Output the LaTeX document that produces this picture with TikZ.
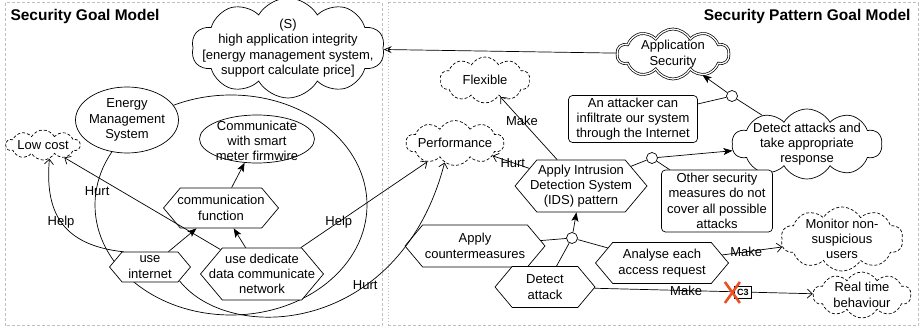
\documentclass[tikz,border=0pt]{standalone}
\usepackage{fontspec}
\setmainfont{Liberation Sans}
\usetikzlibrary{shapes.symbols,shapes.geometric,arrows.meta}
\definecolor{xred}{RGB}{235,80,35}
\begin{document}
\begin{tikzpicture}[x=1pt,y=-1pt,
  every node/.style={font=\fontsize{13}{15.3}\selectfont},
  lbl/.style={align=center, inner sep=0pt},
  base/.style={draw, fill=white, inner sep=0pt, line width=0.7pt},
  sgoal/.style={base, cloud, cloud puffs=10, cloud puff arc=120, cloud ignores aspect},
  nfr/.style={sgoal, dash pattern=on 3pt off 2pt},
  goal/.style={base, ellipse},
  task/.style={base, signal, signal to=east and west, signal pointer angle=100},
  res/.style={base, rectangle, rounded corners=4pt},
  junc/.style={base, circle, minimum size=11pt},
  conn/.style={line width=0.7pt},
  arrD/.style={conn, -{Stealth[length=9pt,width=7pt,inset=2pt]}},
  arrC/.style={conn, -{Straight Barb[length=5pt,width=9pt]}},
  arrS/.style={conn, -{Stealth[open,length=8pt,width=7pt,inset=3pt]}},
  elbl/.style={inner sep=0pt},
  panel/.style={draw=black!25, line width=1pt, dash pattern=on 3pt off 2pt},
  c3box/.style={draw, fill=white, line width=0.6pt, inner sep=1pt, minimum width=17pt, minimum height=12pt, font=\fontsize{9}{10}\selectfont\bfseries},
  xmark/.style={draw=xred, line width=2.6pt}
]
\useasboundingbox (0,0) rectangle (922,331);
% panels
\draw[panel] (5,3) rectangle (382,326);
\draw[panel] (388,3) -- (918,3) -- (918,326) -- (388,326);
\draw[draw=black!25, line width=1pt, dotted] (388,3) -- (388,326);
\node[anchor=west, font=\fontsize{15.5}{18}\selectfont\bfseries] (t1) at (7,16) {Security Goal Model};
\node[anchor=east, font=\fontsize{15.5}{18}\selectfont\bfseries] (t2) at (914,16) {Security Pattern Goal Model};

% actor boundary
\draw[conn] (231,205) ellipse [x radius=136pt, y radius=110pt];

% left panel nodes
\node[sgoal, minimum width=193pt, minimum height=100pt,
  label={[lbl]center:{(S)\\high application integrity\\{[}energy management system,\\support calculate price{]}}}] (s) at (288,48) {};
\node[goal, minimum width=103pt, minimum height=66pt,
  label={[lbl]center:{Energy\\Management\\System}}] (ems) at (127,120) {};
\node[nfr, minimum width=74pt, minimum height=30pt,
  label={[lbl]center:{Low cost}}] (lowcost) at (43,145) {};
\node[goal, minimum width=115pt, minimum height=48pt,
  label={[lbl,yshift=-2pt]center:{Communicate\\with smart\\meter firmwire}}] (comm) at (257,139) {};
\node[task, minimum width=115pt, minimum height=40pt,
  label={[lbl]center:{communication\\function}}] (cf) at (221,208) {};
\node[task, minimum width=81pt, minimum height=30pt,
  label={[lbl]center:{use\\internet}}] (ui) at (150,267) {};
\node[task, minimum width=123pt, minimum height=52pt,
  label={[lbl]center:{use dedicate\\data communicate\\network}}] (ud) at (262,274) {};

% right panel nodes
\node[sgoal, double, double distance=1.3pt, minimum width=112pt, minimum height=50pt,
  label={[lbl]center:{Application\\Security}}] (appsec) at (673,54) {};
\node[nfr, minimum width=90pt, minimum height=46pt,
  label={[lbl]center:{Flexible}}] (flexible) at (485,80) {};
\node[nfr, minimum width=98pt, minimum height=45pt,
  label={[lbl]center:{Performance}}] (perf) at (455,143) {};
\node[res, minimum width=129pt, minimum height=47pt,
  label={[lbl]center:{An attacker can\\infiltrate our system\\through the Internet}}] (attacker) at (633,119) {};
\node[sgoal, minimum width=150pt, minimum height=70pt,
  label={[lbl]center:{Detect attacks and\\take appropriate\\response}}] (detect) at (807,144) {};
\node[task, minimum width=132pt, minimum height=52pt,
  label={[lbl]center:{Apply Intrusion\\Detection System\\(IDS) pattern}}] (ids) at (581,186) {};
\node[res, minimum width=111pt, minimum height=62pt,
  label={[lbl]center:{Other security\\measures do not\\cover all possible\\attacks}}] (other) at (717,201) {};
\node[task, minimum width=140pt, minimum height=42pt,
  label={[lbl]center:{Apply\\countermeasures}}] (ac) at (475,246) {};
\node[task, minimum width=100pt, minimum height=41pt,
  label={[lbl]center:{Detect\\attack}}] (da) at (545,287) {};
\node[task, minimum width=133pt, minimum height=41pt,
  label={[lbl]center:{Analyse each\\access request}}] (ae) at (662,263) {};
\node[nfr, minimum width=122pt, minimum height=64pt,
  label={[lbl]center:{Monitor non-\\suspicious\\users}}] (monitor) at (842,239) {};
\node[nfr, minimum width=98pt, minimum height=46pt,
  label={[lbl]center:{Real time\\behaviour}}] (realtime) at (862,295) {};
\node[junc] (c1) at (732,96) {};
\node[junc] (c2) at (652,158) {};
\node[junc] (c3) at (572,238) {};

% left panel connectors
\draw[arrD] (ui) -- (cf);
\draw[arrD] (ud) -- (cf);
\draw[arrD] (cf) -- (comm);
\draw[arrC] (ui.150) .. controls (60,245) and (45,210) .. node[elbl,pos=0.5]{Help} (lowcost.295);
\draw[arrC] (ud) -- node[elbl, pos=0.79, yshift=-14pt]{Hurt} (lowcost);
\draw[arrC] (ud) -- node[elbl, pos=0.3]{Help} (perf);
\draw[arrC] (ui.-25) .. controls (230,345) and (400,335) .. node[elbl,pos=0.66]{Hurt} (perf.-118);

% right panel connectors
\draw[arrS] (appsec) -- (s);
\draw[conn] (attacker) -- (c1);
\draw[conn] (c1) -- (detect);
\draw[arrD] (c1) -- (appsec);
\draw[conn] (ids) -- (c2);
\draw[arrD] (c2) -- (detect);
\draw[conn] (c2) -- (other);
\draw[conn] (ac) -- (c3);
\draw[conn] (da) -- (c3);
\draw[conn] (ae) -- (c3);
\draw[arrD] (c3) -- (ids);
\draw[arrC] (ids) -- node[elbl, pos=0.62] {Make} (flexible);
\draw[arrC] (ids) -- node[elbl, pos=0.45] {Hurt} (perf);
\draw[arrC] (ae) -- node[elbl, pos=0.4] {Make} (monitor);
\draw[arrC] (da) -- node[elbl, pos=0.42] {Make} node[c3box, pos=0.68] (c3b) {C3} (realtime);
\draw[xmark] ([shift={(-18,-10)}]c3b.center) -- ([shift={(-3,11)}]c3b.center);
\draw[xmark] ([shift={(-3,-10)}]c3b.center) -- ([shift={(-18,11)}]c3b.center);
\end{tikzpicture}
\end{document}
